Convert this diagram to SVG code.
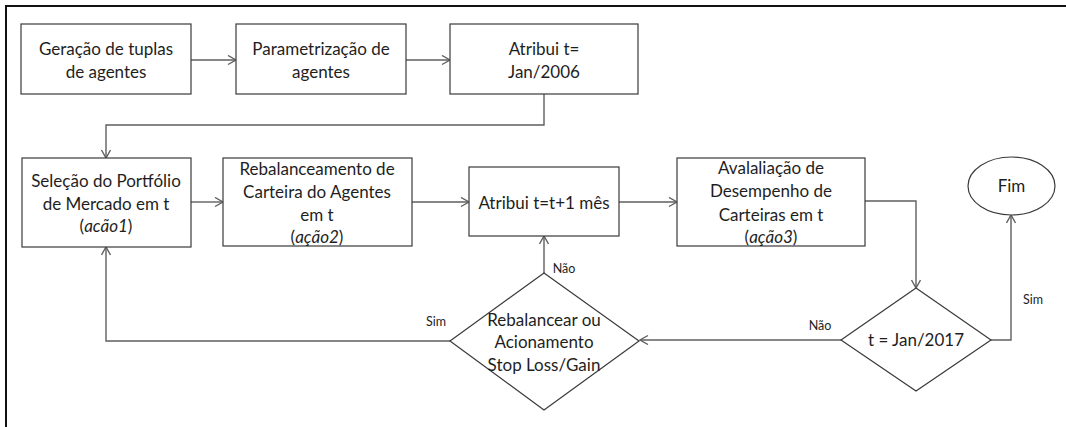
<svg xmlns="http://www.w3.org/2000/svg" width="1066" height="427" viewBox="0 0 1066 427">
<defs>
<marker id="arr" markerUnits="userSpaceOnUse" markerWidth="12" markerHeight="12" refX="9" refY="5" orient="auto">
<path d="M1,0.5 L9,5 L1,9.5" fill="none" stroke="#5f5f5f" stroke-width="1.4"/>
</marker>
<style>
.box{fill:#fff;stroke:#3a3a3a;stroke-width:1.2}
.t{font-family:Lato,"Liberation Sans",sans-serif;font-size:17px;fill:#1e1e1e;text-anchor:middle;dominant-baseline:central}
.lbl{font-family:Lato,"Liberation Sans",sans-serif;font-size:12.5px;fill:#1e1e1e;text-anchor:middle;dominant-baseline:central}
.c{fill:none;stroke:#5f5f5f;stroke-width:1.4}
.ca{fill:none;stroke:#5f5f5f;stroke-width:1.4;marker-end:url(#arr)}
.frame{fill:none;stroke:#111;stroke-width:2}
</style>
</defs>
<rect width="1066" height="427" fill="#fff"/>
<path class="frame" d="M6,428 L6,6 L1067,6"/>

<g id="connectors">
<path class="ca" d="M191,60 L236,60"/>
<path class="ca" d="M406,60 L450,60"/>
<path class="ca" d="M544,94 L544,125 L106,125 L106,158"/>
<path class="ca" d="M191,202 L223,202"/>
<path class="ca" d="M412,202 L469,202"/>
<path class="ca" d="M619,202 L677,202"/>
<path class="ca" d="M865,201 L916,201 L916,288"/>
<path class="ca" d="M841,340 L640,340"/>
<path class="ca" d="M544,273 L544,236"/>
<path class="ca" d="M450,341 L106,341 L106,247"/>
<path class="ca" d="M991,340 L1011,340 L1011,215"/>
<text class="lbl" x="564" y="268">Não</text>
<text class="lbl" x="820" y="325">Não</text>
<text class="lbl" x="436" y="321">Sim</text>
<text class="lbl" x="1033" y="299">Sim</text>
</g>

<g id="n1">
<rect class="box" x="21" y="24" width="170" height="70"/>
<text class="t" x="106" y="48">Geração de tuplas</text>
<text class="t" x="106" y="71">de agentes</text>
</g>
<g id="n2">
<rect class="box" x="236" y="24" width="170" height="70"/>
<text class="t" x="321" y="48">Parametrização de</text>
<text class="t" x="321" y="71">agentes</text>
</g>
<g id="n3">
<rect class="box" x="450" y="24" width="188" height="70"/>
<text class="t" x="544" y="48">Atribui t=</text>
<text class="t" x="544" y="71">Jan/2006</text>
</g>
<g id="n4">
<rect class="box" x="22" y="158" width="169" height="89"/>
<text class="t" x="106" y="180">Seleção do Portfólio</text>
<text class="t" x="106" y="203">de Mercado em t</text>
<text class="t" x="106" y="225">(<tspan font-style="italic">acão1</tspan>)</text>
</g>
<g id="n5">
<rect class="box" x="223" y="158" width="189" height="88"/>
<text class="t" x="317" y="168">Rebalanceamento de</text>
<text class="t" x="317" y="191">Carteira do Agentes</text>
<text class="t" x="317" y="214">em t</text>
<text class="t" x="317" y="236">(<tspan font-style="italic">ação2</tspan>)</text>
</g>
<g id="n6">
<rect class="box" x="469" y="167" width="150" height="69"/>
<text class="t" x="544" y="202">Atribui t=t+1 mês</text>
</g>
<g id="n7">
<rect class="box" x="677" y="158" width="188" height="88"/>
<text class="t" x="771" y="167">Avalaliação de</text>
<text class="t" x="771" y="190">Desempenho de</text>
<text class="t" x="771" y="214">Carteiras em t</text>
<text class="t" x="771" y="236">(<tspan font-style="italic">ação3</tspan>)</text>
</g>
<g id="n8">
<polygon class="box" points="544,273 639,341 544,410 450,341"/>
<text class="t" x="544" y="319">Rebalancear ou</text>
<text class="t" x="544" y="341">Acionamento</text>
<text class="t" x="544" y="364">Stop Loss/Gain</text>
</g>
<g id="n9">
<polygon class="box" points="916,288 991,340 916,391 841,340"/>
<text class="t" x="916" y="339">t = Jan/2017</text>
</g>
<g id="n10">
<ellipse class="box" cx="1011.5" cy="186" rx="43.5" ry="29"/>
<text class="t" x="1011.5" y="185">Fim</text>
</g>
</svg>
